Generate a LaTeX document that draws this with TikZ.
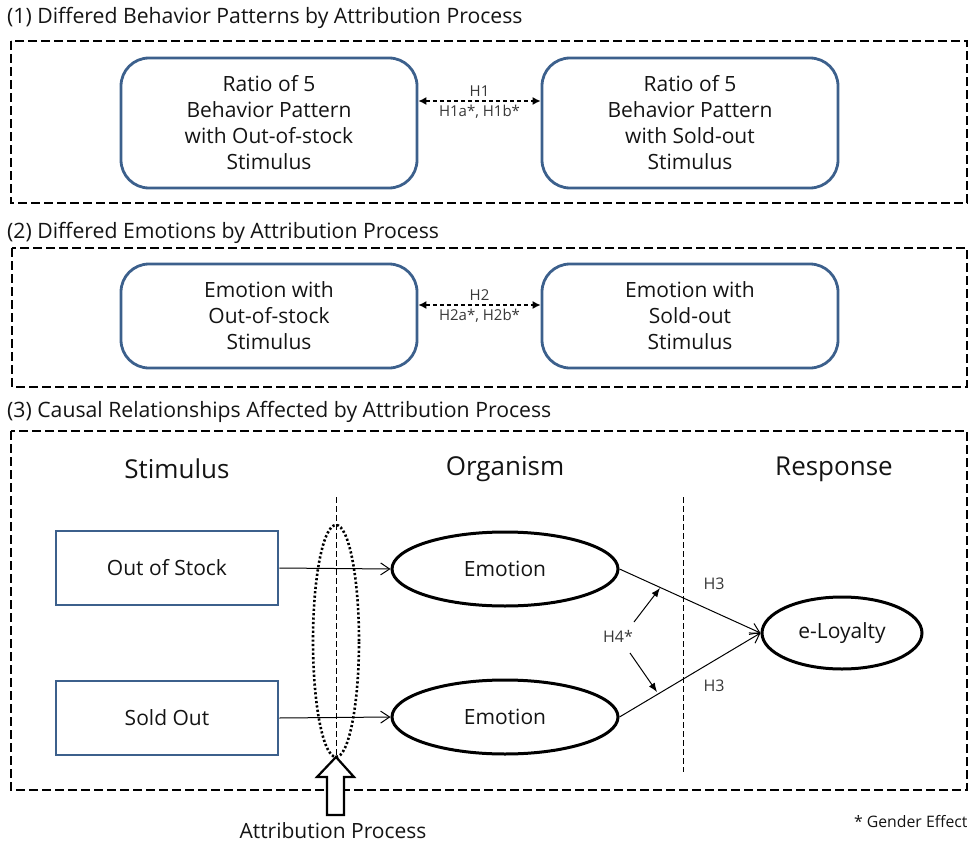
\documentclass[tikz,border=0pt]{standalone}
\usepackage{fontspec}
\setmainfont{Open Sans}
\usetikzlibrary{arrows.meta,shapes.geometric}
\definecolor{boxblue}{RGB}{60,96,140}
\definecolor{txt}{RGB}{20,20,20}
\begin{document}
\begin{tikzpicture}[x=1pt,y=-1pt,
  sect/.style={draw=black,line width=2.8pt,dash pattern=on 9pt off 4pt},
  rbox/.style={draw=boxblue,line width=2.8pt,rounded corners=28pt,minimum width=296pt,align=center,font=\fontsize{21}{26}\selectfont,text=txt},
  sbox/.style={draw=boxblue,line width=2.8pt,minimum width=222pt,minimum height=74pt,font=\fontsize{21}{24}\selectfont,text=txt},
  oval/.style={draw=black,ellipse,line width=3pt,font=\fontsize{21}{24}\selectfont,text=txt},
  ttl/.style={anchor=west,font=\fontsize{21.2}{24}\selectfont,text=txt,inner sep=0pt},
  hd/.style={font=\fontsize{26}{30}\selectfont,text=txt},
  hlab/.style={font=\fontsize{15}{17}\selectfont,text=txt!85,inner sep=1pt},
  harrow/.style={dashed,line width=1.3pt,dash pattern=on 4pt off 3pt,{Latex[length=8pt,width=8pt]}-{Latex[length=8pt,width=8pt]}},
  barb/.style={line width=1pt,-{Straight Barb[length=9pt,width=12pt]}},
  vdash/.style={line width=0.9pt,dash pattern=on 6pt off 3pt}]
\useasboundingbox (0,0) rectangle (972,843);

% Section 1
\node[ttl] (t1) at (7,18) {(1) Differed Behavior Patterns by Attribution Process};
\draw[sect] (11,41) rectangle (967,203);
\node[rbox,minimum height=130pt] (l1) at (269,123) {Ratio of 5\\Behavior Pattern\\with Out-of-stock\\Stimulus};
\node[rbox,minimum height=130pt] (r1) at (690,123) {Ratio of 5\\Behavior Pattern\\with Sold-out\\Stimulus};
\draw[harrow] ([yshift=22pt]l1.east) -- ([yshift=22pt]r1.west)
  node[midway,above=3pt,hlab] (h1) {H1}
  node[midway,below=2pt,hlab] (h1b) {H1a*, H1b*};

% Section 2
\node[ttl] (t2) at (7,233) {(2) Differed Emotions by Attribution Process};
\draw[sect] (12,248) rectangle (967,387);
\node[rbox,minimum height=104pt] (l2) at (269,316) {Emotion with\\Out-of-stock\\Stimulus};
\node[rbox,minimum height=104pt] (r2) at (690,316) {Emotion with\\Sold-out\\Stimulus};
\draw[harrow] ([yshift=11pt]l2.east) -- ([yshift=11pt]r2.west)
  node[midway,above=3pt,hlab] (h2) {H2}
  node[midway,below=2pt,hlab] (h2b) {H2a*, H2b*};

% Section 3
\node[ttl] (t3) at (7,412) {(3) Causal Relationships Affected by Attribution Process};
\draw[sect] (11,431) rectangle (967,790);
\node[hd] (hs) at (177,469) {Stimulus};
\node[hd] (ho) at (505,469) {Organism};
\node[hd] (hr) at (834,469) {Response};

\node[sbox] (oos) at (167,568) {Out of Stock};
\node[sbox] (so) at (167,718) {Sold Out};

\node[oval,minimum width=226pt,minimum height=74pt] (e1) at (505,569) {Emotion};
\node[oval,minimum width=226pt,minimum height=74pt] (e2) at (505,717) {Emotion};
\node[oval,minimum width=160pt,minimum height=72pt] (loy) at (842,633) {e-Loyalty};

% attribution
\coordinate (v1t) at (336,497);
\coordinate (v1b) at (336,757);
\draw[vdash] (v1t) -- (v1b);
\node[draw=black,ellipse,line width=2.6pt,dash pattern=on 2.2pt off 2.2pt,minimum width=46pt,minimum height=232pt,inner sep=0pt] (attr) at (336,641) {};
\draw[line width=2.2pt,fill=white,line join=miter]
  (336,757) -- (354,777) -- (344,777) -- (344,815) -- (327,815) -- (327,777) -- (317,777) -- cycle;
\node[font=\fontsize{21}{24}\selectfont,text=txt] (ap) at (333,831) {Attribution Process};

\coordinate (v2t) at (683,497);
\coordinate (v2b) at (683,772);
\draw[vdash] (v2t) -- (v2b);

\draw[barb] (oos.east) -- (e1.west);
\draw[barb] (so.east) -- (e2.west);
\draw[barb] (e1.east) -- (loy.west);
\draw[barb] (e2.east) -- (loy.west);

\node[hlab,font=\fontsize{16}{17}\selectfont] (h3a) at (714,584) {H3};
\node[hlab,font=\fontsize{16}{17}\selectfont] (h3b) at (714,686) {H3};
\node[hlab,font=\fontsize{16}{17}\selectfont] (h4) at (618,636) {H4*};
\coordinate (h4u) at (660,588);
\coordinate (h4d) at (657,692);
\draw[line width=1pt,-{Latex[length=9pt,width=7pt]}] (634,622) -- (h4u);
\draw[line width=1pt,-{Latex[length=9pt,width=7pt]}] (630,653) -- (h4d);

\node[anchor=east,font=\fontsize{15.8}{17}\selectfont,text=txt] (ge) at (971,822) {* Gender Effect};
\end{tikzpicture}
\end{document}
